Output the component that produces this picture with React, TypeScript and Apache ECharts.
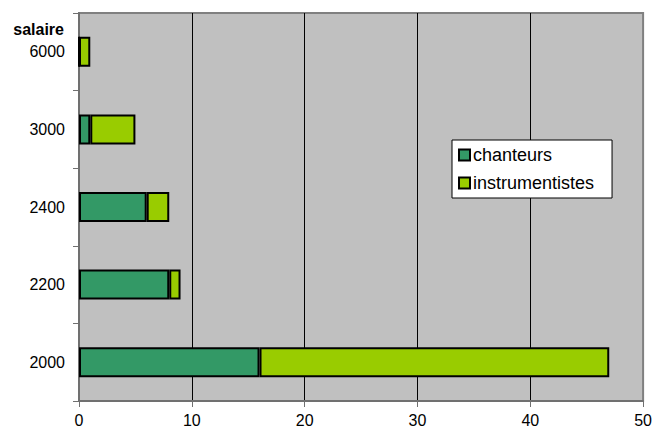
import React, { useEffect, useRef } from "react";
import * as echarts from "echarts";

const categories = ["2000", "2200", "2400", "3000", "6000"];
const chanteurs = [16, 8, 6, 1, 0];
const instrumentistes = [31, 1, 2, 4, 1];
const xTicks = [0, 10, 20, 30, 40, 50];

export default function App() {
  const ref = useRef<HTMLDivElement>(null);
  useEffect(() => {
    const chart = echarts.init(ref.current!, null, { renderer: "svg" });
    const font = "Liberation Sans, Arial, sans-serif";
    chart.setOption({
      animation: false,
      textStyle: { fontFamily: font },
      grid: {
        left: 79,
        top: 13,
        right: 9,
        bottom: 29,
        show: true,
        backgroundColor: "#C0C0C0",
        borderColor: "#808080",
        borderWidth: 2,
      },
      legend: {
        orient: "vertical",
        left: 452,
        top: 140,
        backgroundColor: "#ffffff",
        borderColor: "#000000",
        borderWidth: 1,
        borderRadius: 0,
        padding: [6, 18, 6, 6],
        itemGap: 10,
        itemWidth: 11,
        itemHeight: 11,
        icon: "rect",
        itemStyle: { borderColor: "#000", borderWidth: 2 },
        textStyle: { fontSize: 18, color: "#000", fontFamily: font, padding: [0, 0, 0, -2] },
        data: ["chanteurs", "instrumentistes"],
      },
      xAxis: {
        type: "value",
        min: xTicks[0],
        max: xTicks[xTicks.length - 1],
        interval: 10,
        axisLine: { show: true, lineStyle: { color: "#707070", width: 2 } },
        axisTick: { show: true, length: 6, lineStyle: { color: "#707070" } },
        axisLabel: { color: "#000", fontSize: 16, margin: 11, fontFamily: font },
        splitLine: {
          show: true,
          lineStyle: { color: ["#808080", "#000", "#000", "#000", "#000", "#808080"], width: 1 },
        },
      },
      yAxis: {
        type: "category",
        data: categories,
        axisLine: { show: true, lineStyle: { color: "#707070", width: 2 } },
        axisTick: { show: true, length: 6, lineStyle: { color: "#707070" } },
        axisLabel: { color: "#000", fontSize: 16, margin: 14, fontFamily: font },
        splitLine: { show: false },
      },
      graphic: [
        {
          type: "text",
          x: 64,
          y: 29,
          style: {
            text: "salaire",
            fontWeight: "bold",
            fontSize: 16,
            fontFamily: font,
            fill: "#000",
            align: "right",
            verticalAlign: "middle",
          },
        },
      ],
      series: [
        {
          name: "chanteurs",
          type: "bar",
          stack: "total",
          data: chanteurs,
          barWidth: 30,
          itemStyle: { color: "#339966", borderColor: "#000", borderWidth: 2 },
        },
        {
          name: "instrumentistes",
          type: "bar",
          stack: "total",
          data: instrumentistes,
          barWidth: 30,
          itemStyle: { color: "#99CC00", borderColor: "#000", borderWidth: 2 },
        },
      ],
    });
    return () => chart.dispose();
  }, []);
  return (
    <div
      ref={ref}
      style={{ position: "absolute", left: 0, top: 0, width: 655, height: 430, background: "#fff" }}
    />
  );
}
